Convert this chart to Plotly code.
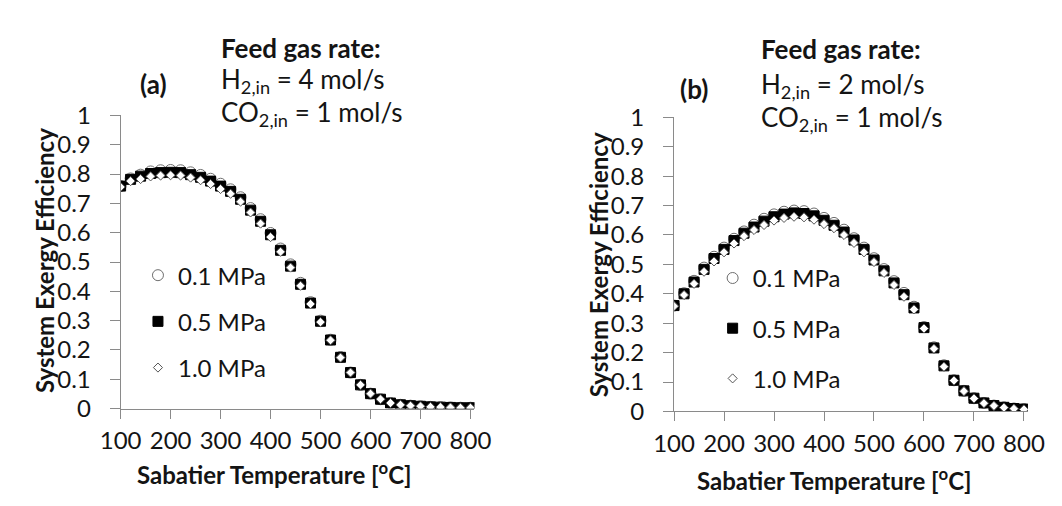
import plotly.graph_objects as go

# ---------------- data ----------------
temps = [100, 120, 140, 160, 180, 200, 220, 240, 260, 280, 300, 320, 340, 360, 380, 400, 420, 440,
         460, 480, 500, 520, 540, 560, 580, 600, 620, 640, 660, 680, 700, 720, 740, 760, 780, 800]

# (a) H2,in = 4 mol/s, CO2,in = 1 mol/s
a_01 = [0.759, 0.785, 0.798, 0.809, 0.813, 0.814, 0.813, 0.806, 0.797, 0.784, 0.767, 0.748, 0.721, 0.684,
        0.646, 0.599, 0.546, 0.492, 0.429, 0.363, 0.300, 0.235, 0.176, 0.123, 0.081, 0.051, 0.032, 0.019,
        0.013, 0.010, 0.008, 0.006, 0.005, 0.004, 0.003, 0.003]
a_05 = [0.759, 0.782, 0.793, 0.802, 0.805, 0.806, 0.805, 0.798, 0.789, 0.776, 0.759, 0.741, 0.714, 0.677,
        0.639, 0.593, 0.540, 0.486, 0.424, 0.360, 0.298, 0.234, 0.175, 0.123, 0.081, 0.051, 0.032, 0.019,
        0.013, 0.010, 0.008, 0.006, 0.005, 0.004, 0.003, 0.003]
a_10 = [0.756, 0.776, 0.783, 0.792, 0.795, 0.796, 0.795, 0.788, 0.779, 0.766, 0.749, 0.733, 0.706, 0.669,
        0.631, 0.585, 0.535, 0.481, 0.419, 0.357, 0.295, 0.233, 0.174, 0.123, 0.081, 0.051, 0.032, 0.019,
        0.013, 0.010, 0.008, 0.006, 0.005, 0.004, 0.003, 0.003]

# (b) H2,in = 2 mol/s, CO2,in = 1 mol/s
b_01 = [0.360, 0.402, 0.444, 0.489, 0.526, 0.557, 0.587, 0.612, 0.635, 0.655, 0.670, 0.679, 0.683, 0.681,
        0.673, 0.658, 0.641, 0.618, 0.589, 0.557, 0.521, 0.484, 0.443, 0.403, 0.356, 0.287, 0.218, 0.157,
        0.106, 0.070, 0.045, 0.029, 0.020, 0.014, 0.010, 0.008]
b_05 = [0.360, 0.400, 0.440, 0.483, 0.520, 0.551, 0.581, 0.606, 0.627, 0.647, 0.662, 0.671, 0.675, 0.673,
        0.665, 0.650, 0.633, 0.610, 0.583, 0.551, 0.515, 0.478, 0.437, 0.397, 0.352, 0.285, 0.216, 0.155,
        0.106, 0.070, 0.045, 0.029, 0.020, 0.014, 0.010, 0.008]
b_10 = [0.358, 0.396, 0.434, 0.475, 0.510, 0.541, 0.571, 0.596, 0.617, 0.634, 0.649, 0.658, 0.662, 0.660,
        0.652, 0.637, 0.623, 0.600, 0.573, 0.541, 0.508, 0.471, 0.430, 0.390, 0.347, 0.282, 0.213, 0.152,
        0.105, 0.069, 0.044, 0.028, 0.019, 0.013, 0.009, 0.007]

series_names = ["0.1 MPa", "0.5 MPa", "1.0 MPa"]
x_ticks = [100, 200, 300, 400, 500, 600, 700, 800]
y_ticks = [0, 0.1, 0.2, 0.3, 0.4, 0.5, 0.6, 0.7, 0.8, 0.9, 1]
y_ticktext = ["0", "0.1", "0.2", "0.3", "0.4", "0.5", "0.6", "0.7", "0.8", "0.9", "1"]

# ---------------- styling ----------------
W, H = 1062, 506
OFF = 8  # page body margin compensation (px)
FONT = "Lato"
TXT = "#141414"
AX = "#8a8a8a"

styles = [
    dict(symbol="circle", size=11, color="white", line=dict(color="#6e6e6e", width=1)),
    dict(symbol="square", size=10, color="black", line=dict(color="black", width=1)),
    dict(symbol="diamond", size=7, color="white", line=dict(color="#555555", width=1)),
]

fig = go.Figure()
for i, (ys, name) in enumerate(zip([a_01, a_05, a_10], series_names)):
    fig.add_trace(go.Scatter(x=temps, y=ys, mode="markers", name=name, marker=styles[i],
                             xaxis="x", yaxis="y", legend="legend", legendgroup="a%d" % i))
for i, (ys, name) in enumerate(zip([b_01, b_05, b_10], series_names)):
    fig.add_trace(go.Scatter(x=temps, y=ys, mode="markers", name=name, marker=styles[i],
                             xaxis="x2", yaxis="y2", legend="legend2", legendgroup="b%d" % i))


def px(x):
    return (x - OFF) / W


def py(y):
    return 1 - (y - OFF) / H


def xaxis(dom, anchor):
    return dict(domain=dom, anchor=anchor, range=[100, 808], tickvals=x_ticks,
                showline=True, linecolor=AX, linewidth=1, ticks="outside", ticklen=9,
                tickcolor=AX, showgrid=False, zeroline=False, ticklabelstandoff=2,
                tickfont=dict(family=FONT, size=24, color=TXT))


def yaxis(dom, anchor):
    return dict(domain=dom, anchor=anchor, range=[0, 1], tickvals=y_ticks, ticktext=y_ticktext,
                showline=True, linecolor=AX, linewidth=1, ticks="outside", ticklen=10,
                tickcolor=AX, showgrid=False, zeroline=False, ticklabelstandoff=14,
                tickfont=dict(family=FONT, size=24, color=TXT))


leg_common = dict(font=dict(family=FONT, size=24, color=TXT), bgcolor="rgba(0,0,0,0)",
                  borderwidth=0, xanchor="left", yanchor="top", itemclick=False)

ann = []


def txt(x, y, s, size=26, bold=False, xanchor="left", angle=0):
    ann.append(dict(x=px(x), y=py(y), xref="paper", yref="paper", text=("<b>%s</b>" % s) if bold else s,
                    showarrow=False, xanchor=xanchor, yanchor="middle", textangle=angle,
                    font=dict(family=FONT, size=size, color=TXT)))


# panel (a)
txt(205, 33, "Feed gas rate:", bold=True)
txt(137, 72, "(a)", bold=True, xanchor="center")
txt(205, 68, "H<sub>2,in</sub> = 4 mol/s")
txt(205, 103, "CO<sub>2,in</sub> = 1 mol/s")
txt(24, 259, "System Exergy Efficiency", size=24, bold=True, xanchor="center", angle=-90)
txt(263, 484, "Sabatier Temperature [<sup>o</sup>C]", size=24, bold=True, xanchor="center")
# panel (b)
txt(765, 35, "Feed gas rate:", bold=True)
txt(698, 77, "(b)", bold=True, xanchor="center")
txt(765, 73, "H<sub>2,in</sub> = 2 mol/s")
txt(765, 108, "CO<sub>2,in</sub> = 1 mol/s")
txt(598, 263, "System Exergy Efficiency", size=24, bold=True, xanchor="center", angle=-90)
txt(843, 491, "Sabatier Temperature [<sup>o</sup>C]", size=24, bold=True, xanchor="center")

fig.update_layout(
    width=W, height=H,
    margin=dict(l=0, r=0, t=0, b=0),
    paper_bgcolor="white", plot_bgcolor="white",
    font=dict(family=FONT, color=TXT),
    xaxis=xaxis([px(103), px(470)], "y"),
    yaxis=yaxis([py(416), py(105)], "x"),
    xaxis2=xaxis([px(677), px(1044)], "y2"),
    yaxis2=yaxis([py(419), py(107)], "x2"),
    legend=dict(x=px(121), y=py(251), tracegroupgap=12, **leg_common),
    legend2=dict(x=px(717), y=py(254), tracegroupgap=16, **leg_common),
    annotations=ann,
    showlegend=True,
)

fig.write_html("out.html")
